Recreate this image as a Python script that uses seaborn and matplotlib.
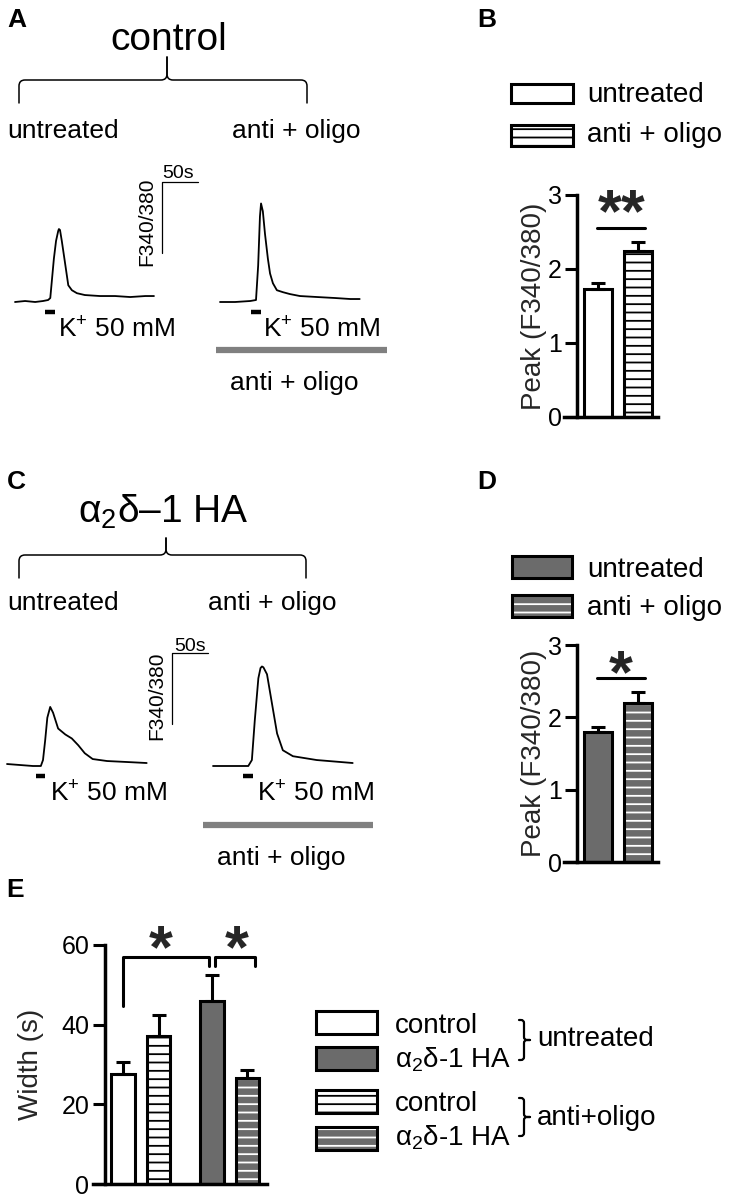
import numpy as np
import pandas as pd
import matplotlib
matplotlib.use("Agg")
import matplotlib.pyplot as plt
import matplotlib.patches as mpatches
from matplotlib.path import Path
import seaborn as sns

# ---------------- data ----------------
# Calcium traces (time in s from start of trace, F340/380 ratio)
CTRL_UNT_T = [0, 14, 28, 39, 46, 49, 51, 54, 57, 60, 61, 62.5, 65, 69, 74, 79, 86, 97, 118, 139, 160, 181, 193]
CTRL_UNT_R = [0.750, 0.757, 0.750, 0.757, 0.764, 0.778, 0.889, 1.055, 1.180, 1.250, 1.264, 1.257, 1.180,
              1.042, 0.868, 0.833, 0.812, 0.799, 0.792, 0.792, 0.785, 0.792, 0.792]
CTRL_AO_T = [0, 21, 42, 50, 53, 55.5, 57, 59.5, 62.5, 66.5, 69.5, 73.5, 79, 87.5, 97, 111, 135, 160, 181, 194]
CTRL_AO_R = [0.750, 0.750, 0.757, 0.764, 1.007, 1.354, 1.444, 1.389, 1.229, 1.055, 0.951, 0.882, 0.833,
             0.819, 0.806, 0.792, 0.785, 0.778, 0.771, 0.771]
HA_UNT_T = [0, 18, 36, 47, 50, 53, 56, 60, 64, 71, 81, 90, 99, 108, 119, 139, 167, 194]
HA_UNT_R = [0.764, 0.757, 0.750, 0.750, 0.792, 0.930, 1.090, 1.166, 1.125, 1.014, 0.972, 0.944, 0.896,
            0.840, 0.799, 0.785, 0.778, 0.771]
HA_AO_T = [0, 24, 49, 54, 58, 63, 66, 68, 70, 75, 82, 89, 97, 111, 144, 194]
HA_AO_R = [0.750, 0.750, 0.750, 0.792, 1.069, 1.368, 1.440, 1.451, 1.445, 1.396, 1.187, 0.979, 0.861,
           0.819, 0.792, 0.771]
# K+ application windows (s from trace start)
STIM_CTRL = [(42, 56), (43, 57)]
STIM_HA = [(40, 53), (42, 56)]

PEAK_GROUPS = ["untreated", "anti + oligo"]
PEAK_CTRL = [1.73, 2.24]
PEAK_CTRL_SEM = [0.08, 0.13]
PEAK_HA = [1.80, 2.20]
PEAK_HA_SEM = [0.07, 0.15]

WIDTH_GROUPS = ["control", "control", "α$_2$δ-1 HA", "α$_2$δ-1 HA"]
WIDTH_TREAT = ["untreated", "anti+oligo", "untreated", "anti+oligo"]
WIDTH_VALS = [27.5, 37.2, 46.0, 26.6]
WIDTH_SEM = [3.2, 5.2, 6.4, 1.9]

# ---------------- style ----------------
sns.set_theme(style="ticks")
plt.rcParams["font.family"] = ["Liberation Sans", "DejaVu Sans"]
plt.rcParams["mathtext.fontset"] = "custom"
plt.rcParams["mathtext.rm"] = "Liberation Sans"
plt.rcParams["mathtext.it"] = "Liberation Sans:italic"
plt.rcParams["mathtext.bf"] = "Liberation Sans:bold"
plt.rcParams["hatch.linewidth"] = 1.3

W, H = 729, 1199
GRAY = "#6b6b6b"
LGRAY = "#808080"
fig = plt.figure(figsize=(W / 100, H / 100), dpi=100)
fig.patch.set_facecolor("white")


def px_axes(x0, y0, x1, y1):
    return fig.add_axes([x0 / W, 1 - y1 / H, (x1 - x0) / W, (y1 - y0) / H])


ov = fig.add_axes([0, 0, 1, 1])
ov.set_xlim(0, W)
ov.set_ylim(H, 0)
ov.axis("off")
ov.set_zorder(10)
ov.patch.set_visible(False)

# ---------------- traces ----------------
SPP = 50 / 36.0      # seconds per pixel
RPP = 0.5 / 71.0     # ratio per pixel


def trace_panel(y0, y1, ybase, traces, stims, offsets_px, scale_px, scale_top_px, stim_r):
    ax = px_axes(0, y0, 400, y1)
    ax.set_xlim(0, 400 * SPP)
    ax.set_ylim(0.75 - (y1 - ybase) * RPP, 0.75 + (ybase - y0) * RPP)
    ax.axis("off")
    for (t, r), (s0, s1), off in zip(traces, stims, offsets_px):
        t0 = off * SPP
        sns.lineplot(x=np.asarray(t) + t0, y=r, ax=ax, color="black", lw=1.3, sort=False)
        ax.plot([t0 + s0, t0 + s1], [stim_r, stim_r], color="black", lw=3.2, solid_capstyle="butt")
    sx = scale_px * SPP
    stop = 0.75 + (ybase - scale_top_px) * RPP
    ax.plot([sx, sx, sx + 50], [stop - 0.5, stop, stop], color="black", lw=0.9)
    return ax


trace_panel(160, 340, 302,
            [(CTRL_UNT_T, CTRL_UNT_R), (CTRL_AO_T, CTRL_AO_R)],
            STIM_CTRL, [15, 220], 162, 182, 0.68)
trace_panel(620, 800, 766,
            [(HA_UNT_T, HA_UNT_R), (HA_AO_T, HA_AO_R)],
            STIM_HA, [7, 213], 172, 653, 0.68)


# ---------------- braces ----------------
def brace(ax, a0, a1, tip, base, d1, d2, horizontal=True, r=6, lw=1.1):
    sg = np.sign(d1)
    codes = [Path.MOVETO, Path.LINETO, Path.CURVE3, Path.CURVE3, Path.LINETO,
             Path.CURVE3, Path.CURVE3, Path.LINETO]
    for a, dirn in ((a0, 1), (a1, -1)):
        pts = [(a, 0), (a, d1 - r * sg), (a, d1), (a + dirn * r, d1), (tip - dirn * r, d1),
               (tip, d1), (tip, d1 + r * sg), (tip, d2)]
        if horizontal:
            v = [(s, base + p) for s, p in pts]
        else:
            v = [(base + p, s) for s, p in pts]
        ax.add_patch(mpatches.PathPatch(Path(v, codes), fill=False, lw=lw, edgecolor="black",
                                        capstyle="round"))


brace(ov, 19, 307, 167, 103, -23, -46)
brace(ov, 19, 306, 166, 578, -23, -40)
brace(ov, 1020, 1060, 1040, 519, 5, 11, horizontal=False, r=3, lw=1.6)
brace(ov, 1098, 1136, 1117, 519, 5, 11, horizontal=False, r=3, lw=1.6)

# ---------------- overlay text (panels A, C) ----------------
def T(x, y, s, size, ha="left", va="baseline", **kw):
    ov.text(x, y, s, fontsize=size, ha=ha, va=va, color="black", **kw)


for lab, x, y in (("A", 7, 27), ("B", 477, 27), ("C", 7, 489), ("D", 477, 489), ("E", 6, 897)):
    T(x, y, lab, 19, fontweight="bold")

T(169, 50, "control", 28, ha="center")
T(163, 523, "α$_2$δ–1 HA", 28, ha="center")
T(7, 138, "untreated", 19)
T(232, 138, "anti + oligo", 19)
T(7, 610, "untreated", 19)
T(208, 610, "anti + oligo", 19)
for x, y in ((58, 337), (263, 337), (50, 802), (257, 802)):
    T(x, y, "K$^{+}$ 50 mM", 19)
T(178, 178, "50s", 14, ha="center")
T(190, 651, "50s", 14, ha="center")
T(147, 222, "F340/380", 15, ha="center", va="center", rotation=90)
T(157, 696, "F340/380", 15, ha="center", va="center", rotation=90)
ov.plot([216, 387], [350, 350], color=LGRAY, lw=4.5, solid_capstyle="butt")
ov.plot([203, 373], [825, 825], color=LGRAY, lw=4.5, solid_capstyle="butt")
T(294, 390, "anti + oligo", 19, ha="center")
T(281, 865, "anti + oligo", 19, ha="center")


# ---------------- legend boxes ----------------
def legend_box(x, y, w, h, face, hatch_color=None):
    if hatch_color == "white":
        ov.add_patch(mpatches.Rectangle((x, y), w, h, facecolor=face, edgecolor="white", lw=0, hatch="--"))
        ov.add_patch(mpatches.Rectangle((x, y), w, h, fill=False, edgecolor="black", lw=2.2))
    elif hatch_color == "black":
        ov.add_patch(mpatches.Rectangle((x, y), w, h, facecolor=face, edgecolor="black", lw=2.2, hatch="--"))
    else:
        ov.add_patch(mpatches.Rectangle((x, y), w, h, facecolor=face, edgecolor="black", lw=2.2))


legend_box(511, 84, 62, 19, "white")
legend_box(511, 125, 62, 21, "white", "black")
T(587, 102, PEAK_GROUPS[0], 20)
T(587, 142, PEAK_GROUPS[1], 20)
legend_box(512, 556, 60, 22, GRAY)
legend_box(512, 595, 60, 22, GRAY, "white")
T(587, 577, PEAK_GROUPS[0], 20)
T(587, 615, PEAK_GROUPS[1], 20)

E_FACES = ["white", "white", GRAY, GRAY]
E_HATCH = [None, "black", None, "white"]
E_ROWS = [(1011, 1033), (1047, 1068), (1090, 1111), (1127, 1146)]
for i, order in enumerate([0, 2, 1, 3]):
    y0, yb = E_ROWS[i]
    legend_box(316, y0, 61, 23, E_FACES[order], E_HATCH[order])
    T(395, yb, WIDTH_GROUPS[order], 20)
T(537, 1046, WIDTH_TREAT[0], 20)
T(537, 1125, WIDTH_TREAT[1], 20)


# ---------------- bar panels ----------------
def bar_panel(rect, pos, vals, sems, faces, hatches, ylim, yticks, xlim, spine_x, width,
              ylabel, label_x, tick_fs):
    ax = px_axes(*rect)
    df = pd.DataFrame({"pos": pos, "val": vals})
    sns.barplot(data=df, x="pos", y="val", native_scale=True, width=width, color="white",
                saturation=1, edgecolor="black", linewidth=2.2, errorbar=None, ax=ax)
    patches = sorted(ax.patches, key=lambda p: p.get_x())
    for p, fc, hc in zip(patches, faces, hatches):
        p.set_facecolor(fc)
        if hc == "black":
            p.set_hatch("--")
        elif hc == "white":
            ax.add_patch(mpatches.Rectangle(p.get_xy(), p.get_width(), p.get_height(), fill=False,
                                            edgecolor="black", lw=2.2, zorder=p.get_zorder() + 0.1))
            p.set_edgecolor("white")
            p.set_linewidth(0)
            p.set_hatch("--")
    ax.errorbar(pos, vals, yerr=[np.zeros(len(vals)), sems], fmt="none", ecolor="black",
                elinewidth=2.2, capsize=5, capthick=2.2, zorder=3)
    ax.set_xlim(*xlim)
    ax.set_ylim(*ylim)
    ax.set_yticks(yticks)
    ax.set_xticks([])
    ax.set_xlabel("")
    ax.set_ylabel(ylabel, fontsize=20)
    ax.yaxis.set_label_coords(label_x, 0.5)
    for s in ("top", "right"):
        ax.spines[s].set_visible(False)
    ax.spines["left"].set_position(("data", spine_x))
    for s in ("left", "bottom"):
        ax.spines[s].set_linewidth(2.5)
        ax.spines[s].set_color("black")
    ax.tick_params(axis="y", length=9, width=2.2, labelsize=tick_fs, pad=2, direction="out", colors="black")
    ax.patch.set_visible(False)
    return ax


def star(ax, x, y, s, dy):
    ax.annotate(s, xy=(x, y), xytext=(0, dy), textcoords="offset points", ha="center",
                va="baseline", fontsize=44, fontweight="bold", annotation_clip=False)


axB = bar_panel((564, 195, 658, 417), [0, 1], PEAK_CTRL, PEAK_CTRL_SEM, ["white", "white"],
                [None, "black"], (0, 3), [0, 1, 2, 3], (-0.85, 1.5), -0.525, 0.7,
                "Peak (F340/380)", -0.18, 18)
axB.plot([-0.02, 1.18], [2.55, 2.55], color="black", lw=2.2, clip_on=False)
star(axB, 0.58, 2.55, "**", -2.2)

axD = bar_panel((564, 645, 658, 862), [0, 1], PEAK_HA, PEAK_HA_SEM, [GRAY, GRAY],
                [None, "white"], (0, 3), [0, 1, 2, 3], (-0.85, 1.5), -0.525, 0.7,
                "Peak (F340/380)", -0.18, 18)
axD.plot([-0.02, 1.18], [2.55, 2.55], color="black", lw=2.2, clip_on=False)
star(axD, 0.58, 2.55, "*", -10.6)

E_POS = [0, 1, 2.5, 3.5]
axE = bar_panel((93, 945, 267, 1184), E_POS, WIDTH_VALS, WIDTH_SEM, E_FACES, E_HATCH,
                (0, 60), [0, 20, 40, 60], (-0.85, 4.05), -0.52, 0.66, "Width (s)", -0.28, 18)
axE.plot([0, 0, 2.41, 2.41], [44.7, 56.9, 56.9, 54.7], color="black", lw=2.2, clip_on=False)
axE.plot([2.58, 2.58, 3.71, 3.71], [54.7, 56.9, 56.9, 54.7], color="black", lw=2.2, clip_on=False)
star(axE, 1.05, 56.9, "*", -7.2)
star(axE, 3.2, 56.9, "*", -7.2)

fig.savefig("out.png", dpi=100, facecolor="white")
